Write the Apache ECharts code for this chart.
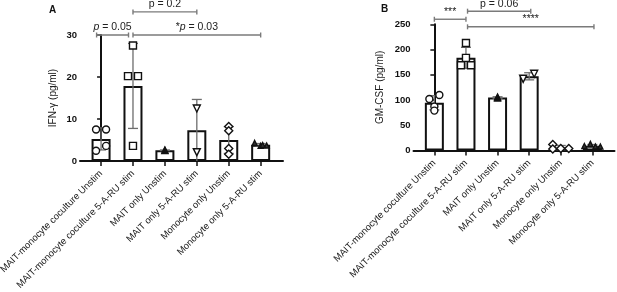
<!DOCTYPE html>
<html>
<head>
<meta charset="utf-8">
<script src="https://cdn.jsdelivr.net/npm/echarts@6/dist/echarts.min.js"></script>
<style>
html, body { margin: 0; padding: 0; background: #fff; }
#chart { width: 617px; height: 292px; }
</style>
</head>
<body>
<div id="chart"></div>
<script>
// groups on the x axis (same for both panels)
const categories = [
    'MAIT-monocyte coculture Unstim',
    'MAIT-monocyte coculture 5-A-RU stim',
    'MAIT only Unstim',
    'MAIT only 5-A-RU stim',
    'Monocyte only Unstim',
    'Monocyte only 5-A-RU stim'
]

// individual donors, pg/ml
const ifnPoints = [
    [7.5, 7.5, 2.45, 3.6],
    [27.5, 20.2, 20.2, 3.6],
    [2.6, 2.5],
    [12.5, 2.1],
    [8.2, 7.2, 3.0, 1.6],
    [4.3, 3.6, 3.7, 3.8]
]
const gmcsfPoints = [
    [102, 110, 87, 79],
    [213, 183.5, 169, 169],
    [106, 104],
    [142, 152],
    [12, 3, 4, 4],
    [9, 13, 8, 8]
]

const ifnTicks = [0, 10, 20, 30]
const gmcsfTicks = [0, 50, 100, 150, 200, 250]

// comparisons drawn as brackets
const ifnTests = [
    { from: 0, to: 1, label: '{it|p} = 0.05', level: 30 },
    { from: 1, to: 5, label: '*{it|p} = 0.03', level: 30 },
    { from: 1, to: 3, label: 'p = 0.2', level: 35.5 }
]
const gmcsfTests = [
    { from: 0, to: 1, label: '***', level: 260 },
    { from: 1, to: 5, label: '****', level: 245 },
    { from: 1, to: 3, label: 'p = 0.06', level: 276 }
]

// styling
const FONT = "'Liberation Sans', Arial, sans-serif"
const symbols = ['circle', 'rect', 'triangle', 'path://M0,0 L10,0 L5,9 Z', 'diamond', 'triangle']
const symbolFill = ['#fff', '#fff', '#111', '#fff', '#fff', '#333']
const symbolSizes = [7, 7, 6, 7, 8, 5]
// horizontal spread of the dots (px)
const jitterA = [[-5, 5, -5, 5], [0, -5, 5, 0], [0, 0], [0, 0], [0, 0, 0, 0], [-6, 0, 6, 2]]
const jitterB = [[-5, 5, 0, 0], [0, 0, -5, 5], [0, 0], [-6, 5], [-8, -8, 0, 8], [-8, -2, 3, 8]]
const bracketShiftA = [-0.14, 0, 0]
const bracketShiftB = [0, 0.05, 0.05]

const mean = arr => arr.reduce((a, b) => a + b, 0) / arr.length
const sd = arr => {
    const m = mean(arr)
    return Math.sqrt(arr.reduce((a, b) => a + (b - m) * (b - m), 0) / (arr.length - 1))
}

function xAxisFor(gridIndex) {
    return {
        type: 'value',
        gridIndex: gridIndex,
        min: -0.66,
        max: 5.7,
        splitLine: { show: false },
        axisLine: { show: true, lineStyle: { color: '#111', width: 2 } },
        axisTick: {
            show: true, length: 5, customValues: [0, 1, 2, 3, 4, 5],
            lineStyle: { color: '#111', width: 1.5 }
        },
        axisLabel: {
            customValues: [0, 1, 2, 3, 4, 5],
            rotate: 45,
            margin: 11,
            fontSize: 9.5,
            fontFamily: FONT,
            color: '#222',
            formatter: v => categories[Math.round(v)]
        }
    }
}

function yAxisFor(gridIndex, ticks, name, nameGap) {
    return {
        type: 'value',
        gridIndex: gridIndex,
        min: ticks[0],
        max: ticks[ticks.length - 1],
        interval: ticks[1] - ticks[0],
        name: name,
        nameLocation: 'middle',
        nameGap: nameGap,
        nameTextStyle: { fontSize: 10, fontFamily: FONT, color: '#222' },
        splitLine: { show: false },
        axisLine: { show: true, lineStyle: { color: '#111', width: 2 } },
        axisTick: { show: true, length: 4, lineStyle: { color: '#111', width: 1.5 } },
        axisLabel: { fontSize: 9.5, fontWeight: 'bold', fontFamily: FONT, color: '#111', margin: 3 }
    }
}

function panelSeries(idx, points, jitter, tests, shift) {
    const series = []
    series.push({
        type: 'bar',
        xAxisIndex: idx, yAxisIndex: idx,
        barWidth: 19,
        data: points.map((p, i) => [i, mean(p)]),
        itemStyle: { color: '#fff', borderColor: '#111', borderWidth: 2 },
        silent: true,
        z: 2
    })
    series.push({
        type: 'custom',
        xAxisIndex: idx, yAxisIndex: idx,
        data: points.map((p, i) => [i, mean(p) - sd(p), mean(p) + sd(p)]),
        z: 4,
        renderItem: (params, api) => {
            const x = api.value(0)
            const lo = Math.max(0, api.value(1))
            const top = api.coord([x, api.value(2)])
            const bot = api.coord([x, lo])
            const children = [
                { type: 'line', shape: { x1: top[0], y1: top[1], x2: bot[0], y2: bot[1] } },
                { type: 'line', shape: { x1: top[0] - 5, y1: top[1], x2: top[0] + 5, y2: top[1] } }
            ]
            if (api.value(1) > 0) {
                children.push({ type: 'line', shape: { x1: bot[0] - 5, y1: bot[1], x2: bot[0] + 5, y2: bot[1] } })
            }
            children.forEach(c => c.style = { stroke: '#6d6d6d', lineWidth: 1.3 })
            return { type: 'group', children: children }
        }
    })
    points.forEach((p, i) => {
        series.push({
            type: 'scatter',
            xAxisIndex: idx, yAxisIndex: idx,
            symbol: symbols[i],
            symbolSize: symbolSizes[i],
            itemStyle: { color: symbolFill[i], borderColor: '#111', borderWidth: 1.4, opacity: 1 },
            data: p.map((v, k) => ({ value: [i, v], symbolOffset: [jitter[i][k] || 0, 0] })),
            silent: true,
            z: 5
        })
    })
    series.push({
        type: 'custom',
        xAxisIndex: idx, yAxisIndex: idx,
        clip: false,
        data: tests.map(t => [t.from, t.to, t.level]),
        z: 6,
        renderItem: (params, api) => {
            const t = tests[params.dataIndex]
            const s = shift[params.dataIndex]
            const a = api.coord([api.value(0) + s, api.value(2)])
            const b = api.coord([api.value(1) + s, api.value(2)])
            const st = { stroke: '#7a7a7a', lineWidth: 1.4 }
            return {
                type: 'group',
                children: [
                    { type: 'line', shape: { x1: a[0], y1: a[1], x2: b[0], y2: b[1] }, style: st },
                    { type: 'line', shape: { x1: a[0], y1: a[1] - 2.5, x2: a[0], y2: a[1] + 2.5 }, style: st },
                    { type: 'line', shape: { x1: b[0], y1: b[1] - 2.5, x2: b[0], y2: b[1] + 2.5 }, style: st },
                    {
                        type: 'text',
                        x: (a[0] + b[0]) / 2,
                        y: a[1] - 2,
                        style: {
                            text: t.label,
                            align: 'center',
                            verticalAlign: 'bottom',
                            fontSize: 10.5,
                            fontFamily: FONT,
                            fill: '#222',
                            rich: { it: { fontStyle: 'italic', fontSize: 10.5, fontFamily: FONT, fill: '#222' } }
                        }
                    }
                ]
            }
        }
    })
    return series
}

const chart = echarts.init(document.getElementById('chart'), null, { renderer: 'canvas' })

chart.setOption({
    animation: false,
    backgroundColor: '#fff',
    title: [
        { text: 'A', left: 44, top: 0, textStyle: { fontSize: 10, fontWeight: 'bold', fontFamily: FONT, color: '#111' } },
        { text: 'B', left: 376, top: -1, textStyle: { fontSize: 10, fontWeight: 'bold', fontFamily: FONT, color: '#111' } }
    ],
    grid: [
        { left: 80, top: 35, width: 203, height: 126, outerBoundsMode: 'none' },
        { left: 413.5, top: 24.3, width: 201, height: 126.2, outerBoundsMode: 'none' }
    ],
    xAxis: [xAxisFor(0), xAxisFor(1)],
    yAxis: [
        yAxisFor(0, ifnTicks, 'IFN-γ (pg/ml)', 22),
        yAxisFor(1, gmcsfTicks, 'GM-CSF (pg/ml)', 28)
    ],
    series: [
        ...panelSeries(0, ifnPoints, jitterA, ifnTests, bracketShiftA),
        ...panelSeries(1, gmcsfPoints, jitterB, gmcsfTests, bracketShiftB)
    ]
})
</script>
</body>
</html>
